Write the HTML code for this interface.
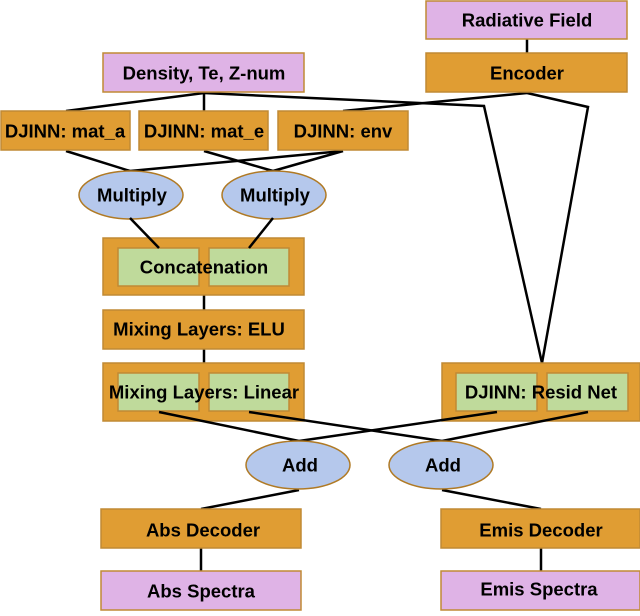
<!DOCTYPE html>
<html><head><style>
body{margin:0;background:#fff}
svg text{font-family:"Liberation Sans",sans-serif;font-weight:bold;font-size:18.5px;text-anchor:middle;dominant-baseline:central;fill:#000}
.o{fill:#E09D33;stroke:#C08A35;stroke-width:1.5}
.p{fill:#DFB3E6;stroke:#C08A35;stroke-width:1.5}
.g{fill:#BFDA9B;stroke:#C08A35;stroke-width:1.5}
.e{fill:#B5C8EC;stroke:#B07A25;stroke-width:1.5}
.l{stroke:#000;stroke-width:2.5;fill:none}
</style></head><body>
<svg width="640" height="611" viewBox="0 0 640 611">
<g class="l">
<line x1="527" y1="39" x2="527" y2="53"/>
<line x1="204" y1="93" x2="66" y2="111"/>
<line x1="204" y1="93" x2="204" y2="111"/>
<polyline points="204,93 484,106 542,363"/>
<line x1="527" y1="93" x2="343" y2="111"/>
<polyline points="527,93 588,107 542,363"/>
<line x1="66" y1="151" x2="130" y2="171"/>
<line x1="343" y1="151" x2="130" y2="171"/>
<line x1="204" y1="151" x2="273" y2="171"/>
<line x1="343" y1="151" x2="273" y2="171"/>
<line x1="204" y1="295" x2="204" y2="310"/>
<line x1="204" y1="349" x2="204" y2="363"/>
<line x1="299" y1="490" x2="201" y2="509"/>
<line x1="442" y1="490" x2="541" y2="509"/>
<line x1="201" y1="548" x2="201" y2="571"/>
<line x1="541" y1="548" x2="541" y2="571"/>
</g>
<rect class="p" x="426" y="1" width="201" height="38"/><text x="527" y="20">Radiative Field</text>
<rect class="o" x="426" y="53" width="201" height="39"/><text x="527" y="73">Encoder</text>
<rect class="p" x="103" y="53" width="201" height="39"/><text x="204" y="73">Density, Te, Z-num</text>
<rect class="o" x="1" y="111" width="129" height="39"/><text x="65" y="131">DJINN: mat_a</text>
<rect class="o" x="139" y="111" width="129" height="39"/><text x="204" y="131">DJINN: mat_e</text>
<rect class="o" x="278" y="111" width="130" height="39"/><text x="343" y="131">DJINN: env</text>
<ellipse class="e" cx="131" cy="195" rx="52" ry="24"/><text x="132" y="195">Multiply</text>
<ellipse class="e" cx="274" cy="195" rx="52" ry="24"/><text x="275" y="195">Multiply</text>
<rect class="o" x="103" y="238" width="201" height="57"/>
<rect class="g" x="118" y="248" width="81" height="38"/><rect class="g" x="209" y="248" width="80" height="38"/>
<g class="l">
<line x1="130" y1="218" x2="159" y2="248"/>
<line x1="273" y1="218" x2="249" y2="248"/>
</g>
<text x="204" y="267">Concatenation</text>
<rect class="o" x="103" y="310" width="201" height="39"/><text x="199" y="329">Mixing Layers: ELU</text>
<rect class="o" x="103" y="363" width="201" height="58"/>
<rect class="g" x="118" y="373" width="81" height="38"/><rect class="g" x="209" y="373" width="80" height="38"/>
<text x="204" y="392">Mixing Layers: Linear</text>
<rect class="o" x="442" y="363" width="198" height="58"/>
<rect class="g" x="456" y="373" width="81" height="38"/><rect class="g" x="547" y="373" width="81" height="38"/>
<text x="541" y="392">DJINN: Resid Net</text>
<g class="l">
<line x1="159" y1="412" x2="299" y2="441"/>
<line x1="249" y1="412" x2="442" y2="441"/>
<line x1="497" y1="412" x2="299" y2="441"/>
<line x1="588" y1="412" x2="442" y2="441"/>
</g>
<ellipse class="e" cx="298" cy="465" rx="52" ry="24"/><text x="300" y="465">Add</text>
<ellipse class="e" cx="441" cy="465" rx="52" ry="24"/><text x="443" y="465">Add</text>
<rect class="o" x="101" y="509" width="200" height="39"/><text x="203" y="530">Abs Decoder</text>
<rect class="o" x="441" y="509" width="199" height="39"/><text x="541" y="530">Emis Decoder</text>
<rect class="p" x="101" y="571" width="200" height="39"/><text x="201" y="591">Abs Spectra</text>
<rect class="p" x="441" y="571" width="199" height="39"/><text x="539" y="589">Emis Spectra</text>
</svg>
</body></html>
